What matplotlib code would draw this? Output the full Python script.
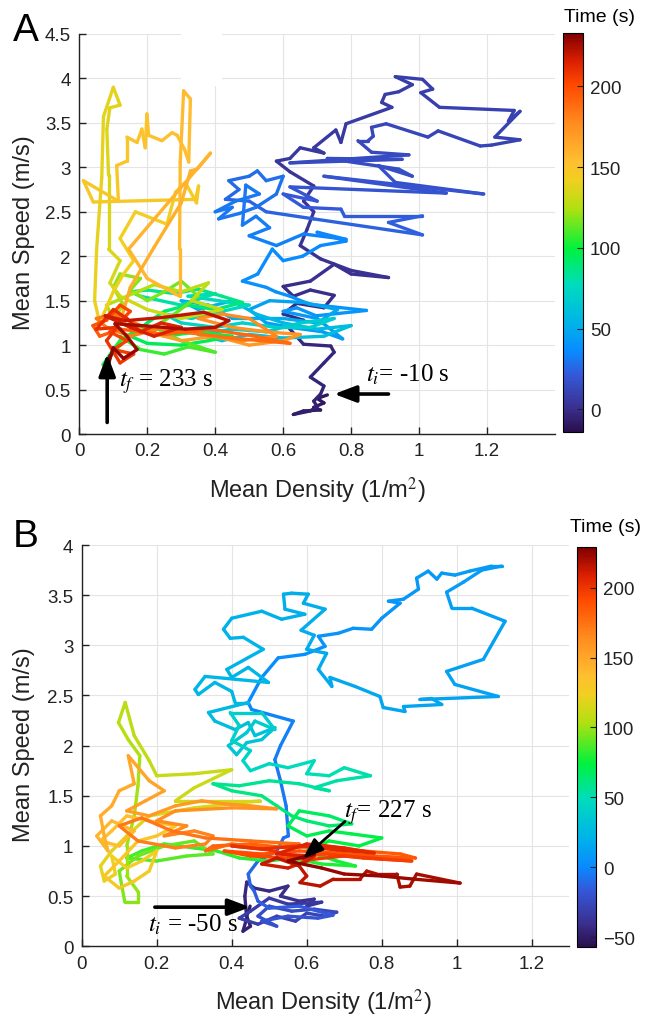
import numpy as np
import matplotlib
matplotlib.use("Agg")
import matplotlib.pyplot as plt
from matplotlib.collections import LineCollection
from matplotlib.colors import LinearSegmentedColormap, Normalize
from matplotlib.cm import ScalarMappable
from matplotlib.patches import Rectangle
from matplotlib.ticker import FuncFormatter

plt.rcParams['font.family'] = ['Liberation Sans', 'DejaVu Sans']
plt.rcParams['mathtext.fontset'] = 'stix'

# ---------------- Panel A: (time s, mean density 1/m^2, mean speed m/s) ----------------
a_phase0 = [(-10.0, 0.73, 0.44), (-9.5, 0.70, 0.40), (-9.0, 0.72, 0.35), (-8.5, 0.69, 0.30),
            (-8.0, 0.71, 0.27), (-7.5, 0.66, 0.26), (-7.0, 0.63, 0.22), (-6.5, 0.68, 0.26),
            (-6.0, 0.70, 0.31), (-5.5, 0.69, 0.37), (-5.0, 0.71, 0.45), (-4.5, 0.72, 0.54),
            (-4.0, 0.68, 0.64), (-3.5, 0.72, 0.80), (-3.0, 0.75, 0.92), (-2.7, 0.74, 0.99),
            (-2.4, 0.66, 1.01), (-2.1, 0.62, 1.18), (-1.8, 0.66, 1.28), (-1.5, 0.60, 1.35),
            (-1.2, 0.64, 1.47), (-0.9, 0.72, 1.42), (-0.6, 0.75, 1.56), (-0.3, 0.68, 1.62),
            (0.0, 0.63, 1.55)]
a_phase1 = [(0.3, 0.60, 1.66), (0.6, 0.68, 1.72), (0.9, 0.75, 1.91), (1.2, 0.80, 1.80),
            (1.5, 0.91, 1.76), (1.8, 0.80, 1.84), (2.1, 0.71, 1.97), (2.4, 0.65, 2.12),
            (2.7, 0.67, 2.30), (3.0, 0.69, 2.50), (3.3, 0.66, 2.62), (3.6, 0.69, 2.79),
            (3.9, 0.62, 2.95), (4.2, 0.58, 3.07), (4.5, 0.62, 3.10)]
a_phase2 = [(4.8, 0.65, 3.22), (5.1, 0.72, 3.16), (5.4, 0.69, 3.22), (5.7, 0.755, 3.42),
            (6.0, 0.77, 3.28), (6.3, 0.785, 3.49), (6.6, 0.92, 3.675), (6.9, 0.89, 3.73),
            (7.2, 0.90, 3.82), (7.5, 0.94, 3.85), (7.8, 0.98, 3.93), (8.1, 0.93, 4.02),
            (8.4, 1.01, 3.99), (8.7, 1.04, 3.88), (9.0, 1.005, 3.84), (9.3, 1.06, 3.675),
            (9.6, 1.28, 3.64), (9.9, 1.263, 3.52), (10.2, 1.297, 3.63), (10.5, 1.223, 3.34),
            (10.8, 1.297, 3.31), (11.1, 1.213, 3.25), (11.4, 1.18, 3.24), (11.7, 1.056, 3.41),
            (12.0, 1.026, 3.34), (12.3, 0.903, 3.49), (12.6, 0.86, 3.45), (12.9, 0.865, 3.35),
            (13.2, 0.85, 3.30), (13.5, 0.82, 3.30), (13.8, 0.86, 3.17)]
a_phase3 = [(14.0, 0.97, 3.14), (14.5, 0.62, 3.05), (15.0, 0.95, 3.09), (15.5, 0.73, 3.10),
            (16.0, 0.94, 2.98), (16.5, 0.98, 2.90), (17.0, 0.88, 3.02), (17.5, 0.93, 2.83),
            (18.0, 1.19, 2.70), (18.5, 0.72, 2.90), (19.0, 1.08, 2.71), (19.5, 0.62, 2.78),
            (20.0, 0.70, 2.62), (20.5, 0.60, 2.70)]
a_phase4 = [(21.0, 0.66, 2.55), (21.5, 0.77, 2.53), (22.0, 0.78, 2.455), (22.5, 1.01, 2.455),
            (23.0, 0.91, 2.38), (23.5, 1.01, 2.24), (24.0, 0.69, 2.42), (24.5, 0.55, 2.50),
            (25.0, 0.50, 2.62), (25.5, 0.43, 2.64), (26.0, 0.47, 2.75), (26.5, 0.44, 2.85),
            (27.0, 0.50, 2.90), (27.5, 0.524, 2.96), (28.0, 0.55, 2.85), (28.5, 0.60, 2.90),
            (29.0, 0.58, 2.70), (29.5, 0.52, 2.55), (30.0, 0.47, 2.48), (30.5, 0.41, 2.42),
            (30.6, 0.45, 2.55), (30.7, 0.40, 2.50), (30.8, 0.46, 2.62), (30.9, 0.53, 2.70),
            (30.95, 0.49, 2.80),
            (31.0, 0.48, 2.35), (31.5, 0.52, 2.45), (32.0, 0.56, 2.32), (32.5, 0.50, 2.23),
            (33.0, 0.58, 2.12), (33.5, 0.66, 2.25), (34.0, 0.785, 2.19), (34.5, 0.70, 2.27),
            (35.0, 0.785, 2.17), (35.5, 0.71, 2.12), (36.0, 0.657, 2.00)]
a_phase5 = [(36.5, 0.60, 1.95), (37.0, 0.568, 2.08), (37.5, 0.525, 1.80), (38.0, 0.48, 1.72),
            (38.5, 0.55, 1.65), (39.0, 0.578, 1.60), (39.5, 0.62, 1.55), (40.0, 0.678, 1.46),
            (40.5, 0.845, 1.39), (41.0, 0.697, 1.33), (41.5, 0.64, 1.42), (42.0, 0.60, 1.38),
            (42.5, 0.70, 1.30), (43.0, 0.775, 1.07), (43.5, 0.716, 1.15), (44.0, 0.62, 1.20),
            (44.5, 0.55, 1.25), (45.0, 0.50, 1.40), (46.0, 0.56, 1.50), (47.0, 0.66, 1.48),
            (48.0, 0.76, 1.40), (49.0, 0.70, 1.25), (50.0, 0.60, 1.30)]
a_phase6 = [(51, 0.45, 1.30), (52, 0.38, 1.45), (53, 0.30, 1.50), (54, 0.35, 1.40),
            (55, 0.45, 1.50), (56, 0.52, 1.35), (57, 0.60, 1.25), (58, 0.70, 1.18),
            (59, 0.80, 1.22), (60, 0.72, 1.10), (61, 0.60, 1.08), (62, 0.50, 1.12),
            (63, 0.42, 1.05), (64, 0.35, 1.12), (65, 0.45, 1.18), (66, 0.55, 1.15),
            (67, 0.65, 1.25), (68, 0.75, 1.30), (69, 0.68, 1.20), (70, 0.58, 1.20),
            (71, 0.48, 1.25), (72, 0.40, 1.20), (73, 0.30, 1.25), (74, 0.25, 1.35),
            (74.4, 0.33, 1.30), (74.8, 0.42, 1.38), (75.2, 0.50, 1.45),
            (76, 0.32, 1.55), (78, 0.40, 1.58), (80, 0.30, 1.45)]
a_phase7 = [(82, 0.18, 1.55), (83, 0.15, 1.60), (84, 0.20, 1.62), (85, 0.28, 1.58),
            (86, 0.35, 1.63), (87, 0.42, 1.55), (88, 0.48, 1.48), (89, 0.40, 1.40),
            (90, 0.32, 1.45), (91, 0.25, 1.38), (92, 0.20, 1.25), (93, 0.15, 1.10),
            (94, 0.20, 1.02), (95, 0.30, 1.00), (96, 0.38, 1.05), (97, 0.45, 1.10),
            (98, 0.35, 1.15), (99, 0.25, 1.10), (100, 0.18, 1.20), (101, 0.12, 1.05),
            (102, 0.10, 0.95), (103, 0.07, 0.78), (104, 0.12, 1.00)]
a_phase8 = [(106, 0.12, 1.10), (107, 0.18, 0.95), (108, 0.25, 0.90), (109, 0.32, 0.98),
            (110, 0.40, 0.92), (111, 0.30, 1.05), (112, 0.22, 1.20), (113, 0.28, 1.35),
            (114, 0.35, 1.55), (115, 0.30, 1.72), (116, 0.25, 1.60), (117, 0.20, 1.50),
            (118, 0.15, 1.62), (119, 0.18, 1.75), (120, 0.12, 1.80), (121, 0.10, 1.65),
            (122, 0.13, 1.45), (123, 0.10, 1.30), (124, 0.08, 1.45)]
a_phase8b = [(125, 0.14, 1.55), (126, 0.22, 1.68), (127, 0.30, 1.60), (128, 0.38, 1.70),
             (129, 0.33, 1.50), (130, 0.42, 1.40), (131, 0.30, 1.30), (132, 0.20, 1.40),
             (133, 0.12, 1.55)]
a_phase9 = [(134.0, 0.09, 1.70), (134.5, 0.12, 1.95), (135.0, 0.086, 2.08), (135.5, 0.086, 2.91),
            (136.0, 0.081, 3.43), (136.5, 0.09, 3.67), (137.0, 0.12, 3.70), (137.5, 0.115, 3.75),
            (138.0, 0.10, 3.90), (138.5, 0.071, 3.57), (139.0, 0.066, 2.89), (139.5, 0.051, 2.08),
            (140.0, 0.045, 1.50), (140.5, 0.06, 1.25), (141.0, 0.10, 1.60), (141.5, 0.13, 1.80),
            (142.0, 0.16, 1.95), (142.5, 0.12, 2.20), (143.0, 0.165, 2.50), (143.5, 0.258, 2.36),
            (144.0, 0.283, 2.72), (144.5, 0.312, 2.83), (145.0, 0.345, 2.60), (145.5, 0.351, 2.79),
            (146.0, 0.342, 2.64), (146.5, 0.041, 2.61), (147.0, 0.012, 2.85), (147.5, 0.115, 2.62),
            (148.0, 0.11, 3.02), (148.5, 0.14, 3.07), (149.0, 0.14, 3.34), (149.5, 0.17, 3.28),
            (150.0, 0.184, 3.43), (150.5, 0.194, 3.22), (151.0, 0.199, 3.60), (151.5, 0.204, 3.36),
            (152.0, 0.243, 3.30), (152.5, 0.273, 3.39), (153.0, 0.288, 3.36), (153.5, 0.31, 3.20),
            (154.0, 0.322, 3.06), (154.5, 0.327, 3.77), (155.0, 0.307, 3.86), (155.5, 0.297, 3.06),
            (156.0, 0.295, 2.08), (156.5, 0.295, 1.55), (157.0, 0.20, 1.75), (157.5, 0.145, 2.08),
            (158.0, 0.386, 3.16), (158.5, 0.347, 2.98), (159.0, 0.327, 2.96), (159.5, 0.30, 2.60),
            (160.0, 0.22, 2.10), (160.5, 0.15, 1.65)]
a_phase10 = [(166, 0.12, 1.25), (167, 0.20, 1.15), (168, 0.30, 1.05), (169, 0.40, 1.10),
             (170, 0.50, 1.00), (171, 0.60, 1.05), (172, 0.65, 1.12), (173, 0.55, 1.15),
             (174, 0.45, 1.20), (175, 0.35, 1.30), (176, 0.42, 1.35), (177, 0.50, 1.30),
             (178, 0.58, 1.10), (179, 0.48, 1.05), (180, 0.36, 1.12), (181, 0.25, 1.20),
             (182, 0.15, 1.10), (183, 0.08, 1.20), (184, 0.05, 1.30), (185, 0.10, 1.35),
             (186, 0.18, 1.22), (187, 0.30, 1.15), (188, 0.45, 1.08), (189, 0.62, 1.02),
             (190, 0.52, 1.10), (191, 0.38, 1.18), (192, 0.25, 1.12), (193, 0.12, 1.18),
             (194, 0.06, 1.10), (195, 0.04, 1.22)]
a_phase11 = [(200, 0.08, 1.28), (201, 0.12, 1.45), (202, 0.15, 1.38), (203, 0.09, 1.15),
             (204, 0.14, 1.05), (205, 0.10, 0.95), (206, 0.16, 0.90), (207, 0.12, 0.80),
             (208, 0.08, 1.05), (209, 0.11, 1.20), (210, 0.05, 1.18), (211, 0.10, 1.40),
             (212, 0.14, 1.30), (213, 0.18, 1.15), (214, 0.24, 1.25), (215, 0.30, 1.20),
             (216, 0.22, 1.10), (217, 0.15, 1.20), (218, 0.076, 1.33), (219, 0.135, 1.275),
             (220, 0.243, 1.31), (221, 0.366, 1.37), (222, 0.44, 1.275), (223, 0.40, 1.20),
             (224, 0.312, 1.18), (225, 0.184, 1.22), (226, 0.105, 1.24), (227, 0.14, 1.10),
             (228, 0.17, 0.95), (229, 0.13, 0.85), (230, 0.10, 0.97), (231, 0.086, 0.79),
             (233, 0.09, 0.88)]

# ---------------- Panel B ----------------
b_phase0 = [(-50, 0.449, 0.40), (-49, 0.44, 0.30), (-48, 0.45, 0.20), (-47, 0.43, 0.15),
            (-46, 0.44, 0.28), (-45, 0.435, 0.50), (-44, 0.44, 0.64), (-43, 0.46, 0.58),
            (-42, 0.50, 0.55), (-41, 0.55, 0.60), (-40, 0.53, 0.50), (-39, 0.58, 0.45),
            (-38, 0.62, 0.47), (-37, 0.60, 0.40), (-36, 0.64, 0.44), (-35, 0.55, 0.42),
            (-34, 0.50, 0.48)]
b_phase1 = [(-33, 0.45, 0.35), (-32, 0.42, 0.28), (-31, 0.47, 0.22), (-30, 0.52, 0.30),
            (-29, 0.57, 0.25), (-28, 0.60, 0.33), (-27, 0.65, 0.30), (-26, 0.68, 0.34),
            (-25, 0.62, 0.37), (-24, 0.56, 0.35), (-23, 0.50, 0.40), (-22, 0.47, 0.30),
            (-21, 0.52, 0.20), (-20, 0.48, 0.25), (-19, 0.55, 0.30), (-18, 0.63, 0.28),
            (-17, 0.67, 0.31), (-16, 0.58, 0.40), (-15, 0.50, 0.38), (-14, 0.47, 0.45),
            (-13, 0.46, 0.55)]
b_phase2 = [(-12, 0.45, 0.60), (-11, 0.444, 0.72), (-10, 0.47, 0.85), (-9, 0.52, 0.95),
            (-8, 0.538, 1.08), (-7, 0.551, 1.10), (-6, 0.545, 1.40), (-5, 0.53, 1.65),
            (-4, 0.515, 1.86), (-3, 0.53, 2.00), (-2, 0.564, 2.245), (-1, 0.453, 2.36),
            (0, 0.444, 2.43), (1, 0.48, 2.68), (2, 0.524, 2.875), (3, 0.595, 2.91),
            (4, 0.649, 2.99)]
b_phase3 = [(5.0, 0.631, 3.09), (5.3, 0.684, 3.12), (5.6, 0.724, 3.17), (5.9, 0.773, 3.16),
            (6.2, 0.80, 3.27), (6.5, 0.849, 3.42), (6.8, 0.818, 3.44), (7.1, 0.858, 3.46),
            (7.4, 0.898, 3.56), (7.7, 0.893, 3.67), (8.0, 0.924, 3.74), (8.3, 0.947, 3.66),
            (8.6, 0.96, 3.72), (8.9, 0.995, 3.70), (9.2, 1.035, 3.74), (9.5, 1.093, 3.79),
            (9.8, 1.12, 3.79), (10.1, 1.067, 3.75), (10.4, 1.018, 3.63), (10.7, 0.973, 3.53),
            (11.0, 0.987, 3.37), (11.3, 1.04, 3.37), (11.6, 1.129, 3.24), (11.9, 1.071, 2.86),
            (12.2, 0.973, 2.74), (12.5, 0.995, 2.61), (12.8, 1.111, 2.49), (13.1, 0.902, 2.46),
            (13.4, 0.933, 2.47), (13.7, 0.96, 2.41), (14.0, 0.858, 2.39), (14.3, 0.862, 2.34),
            (14.6, 0.804, 2.38), (14.9, 0.795, 2.49), (15.2, 0.729, 2.59), (15.5, 0.662, 2.68),
            (15.8, 0.667, 2.59), (16.1, 0.631, 2.76), (16.4, 0.653, 2.92), (16.7, 0.60, 2.96),
            (17.0, 0.62, 3.10), (17.3, 0.585, 3.15), (17.6, 0.649, 3.36), (17.9, 0.591, 3.42),
            (18.2, 0.604, 3.51), (18.5, 0.56, 3.52), (18.8, 0.538, 3.51), (19.1, 0.542, 3.36),
            (19.4, 0.595, 3.31), (19.7, 0.533, 3.26), (20.0, 0.48, 3.34), (20.3, 0.40, 3.27),
            (20.6, 0.378, 3.16), (20.9, 0.396, 3.07), (21.2, 0.431, 3.08), (21.5, 0.484, 2.96),
            (21.8, 0.387, 2.76), (22.1, 0.40, 2.68), (22.4, 0.444, 2.78), (22.7, 0.498, 2.63),
            (23.0, 0.329, 2.69), (23.3, 0.302, 2.56), (23.6, 0.311, 2.51), (23.9, 0.355, 2.63),
            (24.2, 0.40, 2.54), (24.5, 0.409, 2.43), (24.8, 0.444, 2.43)]
b_phase4 = [(26, 0.338, 2.33), (27, 0.355, 2.245), (28, 0.409, 2.16), (29, 0.444, 2.23),
            (30, 0.462, 2.10), (31, 0.515, 2.18), (32, 0.48, 2.06), (33, 0.44, 2.03),
            (34, 0.413, 1.91), (35, 0.391, 2.00), (36, 0.44, 2.13), (37, 0.462, 2.245),
            (38, 0.515, 2.16), (39, 0.48, 2.33), (40, 0.396, 2.33), (41, 0.42, 2.20),
            (42, 0.40, 2.05), (43, 0.45, 1.95), (44, 0.43, 1.85)]
b_phase5 = [(45, 0.45, 1.75), (46, 0.50, 1.82), (47, 0.55, 1.78), (48, 0.62, 1.85),
            (49, 0.60, 1.72), (50, 0.66, 1.70), (51, 0.70, 1.78), (52, 0.77, 1.70),
            (53, 0.68, 1.65), (54, 0.62, 1.58), (55, 0.66, 1.55), (56, 0.58, 1.62),
            (57, 0.50, 1.65), (58, 0.42, 1.60), (59, 0.35, 1.62), (60, 0.40, 1.55),
            (61, 0.48, 1.50), (62, 0.52, 1.40), (63, 0.56, 1.30), (64, 0.60, 1.25),
            (65, 0.66, 1.20), (66, 0.72, 1.22), (67, 0.66, 1.30), (68, 0.58, 1.35),
            (69, 0.55, 1.20)]
b_phase6 = [(70, 0.60, 1.10), (71, 0.66, 1.15), (72, 0.72, 1.12), (73, 0.80, 1.08),
            (74, 0.74, 1.00), (75, 0.66, 1.05), (76, 0.60, 0.95), (77, 0.68, 0.85),
            (78, 0.73, 0.80), (79, 0.64, 0.82), (80, 0.56, 0.88), (81, 0.50, 0.85),
            (82, 0.42, 0.88), (83, 0.36, 0.95), (84, 0.30, 0.98), (85, 0.22, 1.02),
            (86, 0.16, 0.95), (87, 0.12, 0.88), (88, 0.20, 0.85), (89, 0.28, 0.90),
            (90, 0.35, 0.92)]
b_phase7 = [(91, 0.30, 1.05), (92, 0.22, 1.00), (93, 0.15, 0.90), (94, 0.10, 0.75),
            (95, 0.107, 0.60), (96, 0.115, 0.44), (97, 0.151, 0.44), (98, 0.151, 0.54),
            (99, 0.12, 0.70), (100, 0.12, 1.00), (101, 0.14, 1.30), (102, 0.15, 1.60),
            (103, 0.155, 1.90), (104, 0.124, 2.06), (105, 0.098, 2.23), (106, 0.116, 2.43),
            (107, 0.14, 2.10), (108, 0.18, 1.85), (109, 0.20, 1.70), (110, 0.30, 1.72),
            (111, 0.40, 1.76), (112, 0.30, 1.58), (113, 0.25, 1.45), (114, 0.40, 1.45),
            (115, 0.475, 1.45), (116, 0.30, 1.38), (117, 0.18, 1.30)]
b_phase8 = [(118, 0.12, 1.10), (119, 0.08, 0.95), (120, 0.05, 0.80), (121, 0.06, 0.65),
            (122, 0.09, 0.72), (123, 0.08, 0.90), (124, 0.12, 0.78), (125, 0.16, 0.85),
            (126, 0.20, 0.95), (127, 0.18, 0.75), (128, 0.14, 0.65), (129, 0.10, 0.58),
            (130, 0.06, 0.70), (131, 0.10, 0.85), (132, 0.15, 1.05), (133, 0.20, 1.10),
            (134, 0.25, 1.20), (135, 0.18, 1.25), (136, 0.12, 1.30), (137, 0.08, 1.15),
            (138, 0.05, 1.05), (139, 0.10, 1.00), (140, 0.14, 1.15), (141, 0.08, 1.25),
            (142, 0.04, 1.10), (143, 0.07, 0.95)]
b_phase9 = [(145, 0.06, 1.10), (146, 0.05, 1.30), (147, 0.08, 1.40), (148, 0.10, 1.55),
            (149, 0.14, 1.62), (150, 0.124, 1.90), (151, 0.18, 1.65), (152, 0.22, 1.55),
            (153, 0.17, 1.45), (154, 0.12, 1.35), (155, 0.18, 1.30), (156, 0.25, 1.40),
            (157, 0.32, 1.45), (158, 0.38, 1.42), (159, 0.45, 1.40), (160, 0.52, 1.37),
            (161, 0.40, 1.38), (162, 0.25, 1.35), (163, 0.20, 1.25), (164, 0.28, 1.20),
            (165, 0.22, 1.10), (166, 0.30, 1.15), (167, 0.35, 1.10), (168, 0.33, 1.02)]
b_phase9b = [(169, 0.25, 0.98), (170, 0.15, 1.05), (171, 0.10, 1.20), (172, 0.16, 1.28),
             (173, 0.24, 1.15), (174, 0.33, 1.08), (175, 0.45, 1.05), (176, 0.58, 1.02),
             (177, 0.50, 0.98), (178, 0.40, 1.02), (179, 0.33, 0.95)]
b_phase10 = [(180, 0.35, 1.00), (181, 0.45, 1.02), (182, 0.55, 0.98), (183, 0.65, 1.00),
             (184, 0.75, 0.95), (185, 0.85, 0.92), (186, 0.89, 0.88), (187, 0.78, 0.90),
             (188, 0.68, 0.93), (189, 0.58, 0.95), (190, 0.48, 0.92), (191, 0.38, 0.95),
             (192, 0.45, 0.90), (193, 0.55, 0.88), (194, 0.65, 0.92), (195, 0.75, 0.88),
             (196, 0.88, 0.85), (197, 0.80, 0.87), (198, 0.70, 0.90), (199, 0.60, 0.86),
             (200, 0.50, 0.96), (201, 0.40, 1.00), (202, 0.48, 0.97), (203, 0.58, 1.00),
             (204, 0.68, 0.96), (205, 0.78, 0.93), (206, 0.70, 0.98), (207, 0.60, 1.02),
             (208, 0.52, 0.92), (209, 0.62, 0.90)]
b_phase11 = [(210, 0.60, 0.85), (211, 0.55, 0.78), (212, 0.48, 0.82), (213, 0.52, 0.88),
             (214, 0.58, 0.80), (215, 0.60, 0.70), (215.5, 0.582, 0.635), (216, 0.636, 0.60),
             (216.5, 0.671, 0.67), (217, 0.742, 0.67), (217.5, 0.76, 0.75), (218, 0.787, 0.72),
             (218.5, 0.84, 0.72), (219, 0.849, 0.59), (219.5, 0.875, 0.60), (220, 0.893, 0.72),
             (221, 1.009, 0.63), (222, 0.884, 0.67), (223, 0.80, 0.70), (224, 0.70, 0.72),
             (225, 0.64, 0.78), (226, 0.55, 0.85), (226.5, 0.62, 0.92), (227, 0.59, 0.88)]

a_time_range = (-14, 233)
b_time_range = (-57, 229)
a_cbar_ticks = [0, 50, 100, 150, 200]
b_cbar_ticks = [-50, 0, 50, 100, 150, 200]
a_xticks = [0, 0.2, 0.4, 0.6, 0.8, 1.0, 1.2]
a_yticks = [0, 0.5, 1, 1.5, 2, 2.5, 3, 3.5, 4, 4.5]
b_xticks = [0, 0.2, 0.4, 0.6, 0.8, 1.0, 1.2]
b_yticks = [0, 0.5, 1, 1.5, 2, 2.5, 3, 3.5, 4]

# colormap sampled from the colour bar
cmap = LinearSegmentedColormap.from_list('timecmap', [
    (0.00, '#2b0f4e'), (0.06, '#3a3190'), (0.14, '#3557d8'), (0.20, '#0a8aff'),
    (0.27, '#00b2ea'), (0.37, '#00dcbc'), (0.46, '#00f23c'), (0.56, '#b0e010'),
    (0.63, '#f0d020'), (0.68, '#ffbe30'), (0.77, '#ff8e20'), (0.87, '#ff4a00'),
    (0.93, '#dc2000'), (1.00, '#800000')])


def stack(phases):
    arr = np.array([p for ph in phases for p in ph], dtype=float)
    return arr[:, 0], arr[:, 1], arr[:, 2]


def draw_traj(ax, t, x, y, norm):
    pts = np.column_stack([x, y]).reshape(-1, 1, 2)
    segs = np.concatenate([pts[:-1], pts[1:]], axis=1)
    tc = 0.5 * (t[:-1] + t[1:])
    lc = LineCollection(segs, cmap=cmap, norm=norm, linewidths=2.4,
                        capstyle='round', joinstyle='round', zorder=3)
    lc.set_array(tc)
    ax.add_collection(lc)


fmt = FuncFormatter(lambda v, p: ('%g' % v))


def style_axes(ax, xlim, ylim, xticks, yticks):
    ax.set_xlim(*xlim)
    ax.set_ylim(*ylim)
    ax.set_xticks(xticks)
    ax.set_yticks(yticks)
    ax.xaxis.set_major_formatter(fmt)
    ax.yaxis.set_major_formatter(fmt)
    for s in ['top', 'right']:
        ax.spines[s].set_visible(False)
    for s in ['left', 'bottom']:
        ax.spines[s].set_linewidth(1.0)
        ax.spines[s].set_color('#222222')
    ax.tick_params(direction='in', length=5, width=1, labelsize=13.5, colors='#222222', pad=6)
    ax.grid(True, color='#e4e4e4', linewidth=0.8)
    ax.set_axisbelow(True)


fig = plt.figure(figsize=(6.47, 10.2), dpi=100)

arrow_kw = dict(arrowstyle='-|>,head_width=0.36,head_length=0.95', lw=2.6, color='black',
                mutation_scale=14, shrinkA=0, shrinkB=0)
arrow_kw2 = dict(arrowstyle='-|>,head_width=0.36,head_length=0.95', lw=2.0, color='black',
                 mutation_scale=13, shrinkA=0, shrinkB=0)

# ---------------- Panel A ----------------
axA = fig.add_axes([0.1226, 0.5735, 0.7352, 0.3922])
style_axes(axA, (0, 1.4), (0, 4.5), a_xticks, a_yticks)
normA = Normalize(*a_time_range)
tA, xA, yA = stack([a_phase0, a_phase1, a_phase2, a_phase3, a_phase4, a_phase5, a_phase6,
                    a_phase7, a_phase8, a_phase8b, a_phase9, a_phase10, a_phase11])
draw_traj(axA, tA, xA, yA, normA)
axA.add_patch(Rectangle((0.30, 3.92), 0.12, 0.7, facecolor='white', edgecolor='none',
                        zorder=1.5, clip_on=False))

axA.annotate('', xy=(0.082, 0.90), xytext=(0.082, 0.13), arrowprops=arrow_kw, zorder=5)
axA.text(0.118, 0.60, r'$t_f$ = 233 s', fontsize=18, family='Liberation Serif',
         ha='left', va='center', zorder=5)
axA.annotate('', xy=(0.75, 0.45), xytext=(0.91, 0.45), arrowprops=arrow_kw, zorder=5)
axA.text(0.845, 0.675, r'$t_i$= -10 s', fontsize=18, family='Liberation Serif',
         ha='left', va='center', zorder=5)

caxA = fig.add_axes([0.8702, 0.5755, 0.0309, 0.3912])
cbA = fig.colorbar(ScalarMappable(norm=normA, cmap=cmap), cax=caxA, ticks=a_cbar_ticks)
cbA.outline.set_linewidth(0.8)
caxA.tick_params(direction='in', length=4, width=0.8, labelsize=13.5, colors='#222222', pad=5)
fig.text(600 / 647, 1 - 17 / 1020, 'Time (s)', ha='center', va='center', fontsize=14)

fig.text(317 / 647, 1 - 491 / 1020, 'Mean Density (1/m$^2$)', ha='center', va='center',
         fontsize=17, color='#222222')
fig.text(24 / 647, 1 - 233 / 1020, 'Mean Speed (m/s)', ha='center', va='center',
         rotation=90, fontsize=17, color='#222222')
fig.text(26 / 647, 1 - 31 / 1020, 'A', ha='center', va='center', fontsize=28)

# ---------------- Panel B ----------------
axB = fig.add_axes([0.1263, 0.0713, 0.7535, 0.3934])
style_axes(axB, (0, 1.3), (0, 4), b_xticks, b_yticks)
normB = Normalize(*b_time_range)
tB, xB, yB = stack([b_phase0, b_phase1, b_phase2, b_phase3, b_phase4, b_phase5, b_phase6,
                    b_phase7, b_phase8, b_phase9, b_phase9b, b_phase10, b_phase11])
draw_traj(axB, tB, xB, yB, normB)

axB.annotate('', xy=(0.449, 0.39), xytext=(0.195, 0.39), arrowprops=arrow_kw, zorder=5)
axB.text(0.177, 0.22, r'$t_i$ = -50 s', fontsize=18, family='Liberation Serif',
         ha='left', va='center', zorder=5)
axB.annotate('', xy=(0.59, 0.876), xytext=(0.702, 1.244), arrowprops=arrow_kw2, zorder=5)
axB.text(0.70, 1.34, r'$t_f$= 227 s', fontsize=18, family='Liberation Serif',
         ha='left', va='center', zorder=5)

caxB = fig.add_axes([0.8918, 0.0706, 0.0294, 0.392])
cbB = fig.colorbar(ScalarMappable(norm=normB, cmap=cmap), cax=caxB, ticks=b_cbar_ticks)
cbB.outline.set_linewidth(0.8)
caxB.tick_params(direction='in', length=4, width=0.8, labelsize=13.5, colors='#222222', pad=5)
fig.text(605 / 647, 1 - 527 / 1020, 'Time (s)', ha='center', va='center', fontsize=14)

fig.text(323 / 647, 1 - 1003 / 1020, 'Mean Density (1/m$^2$)', ha='center', va='center',
         fontsize=17, color='#222222')
fig.text(24 / 647, 1 - 745 / 1020, 'Mean Speed (m/s)', ha='center', va='center',
         rotation=90, fontsize=17, color='#222222')
fig.text(26 / 647, 1 - 537 / 1020, 'B', ha='center', va='center', fontsize=28)

fig.savefig('out.png', dpi=100)
